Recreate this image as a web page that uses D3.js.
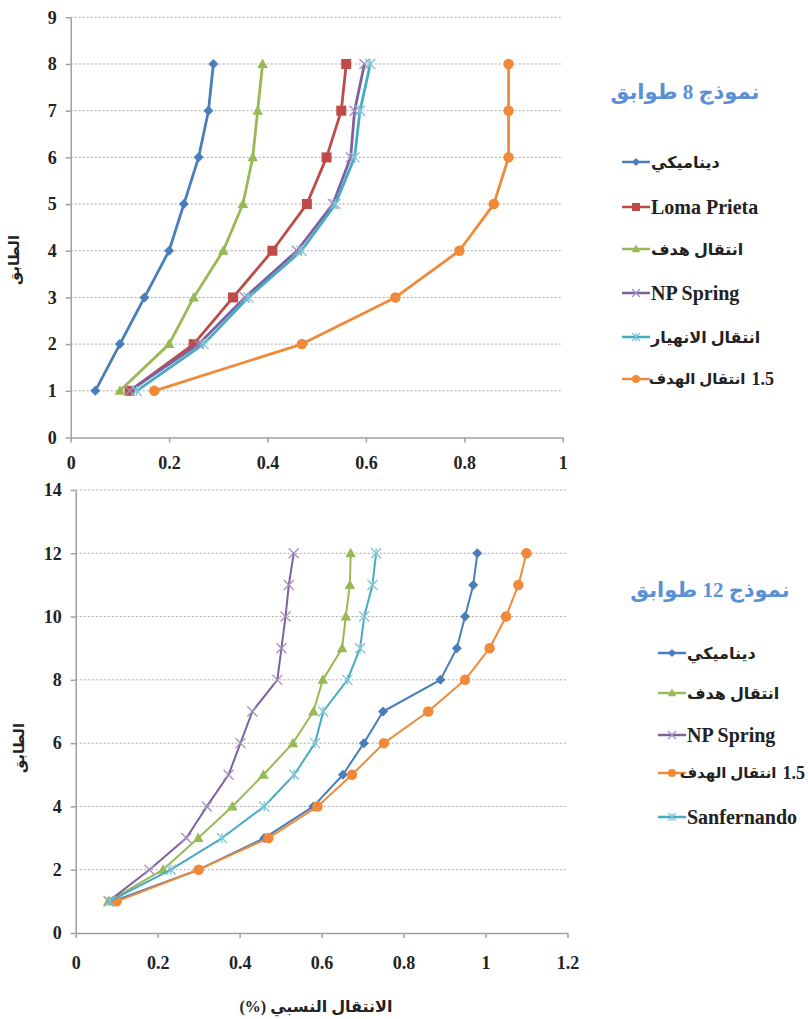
<!DOCTYPE html>
<html>
<head>
<meta charset="utf-8">
<script src="https://cdn.jsdelivr.net/npm/d3@7"></script>
<style>
  body { margin: 0; background: #fff; }
</style>
</head>
<body>
<div id="chart"></div>
<script>
// ---- data: 8 storey model ----
var floors8 = [1, 2, 3, 4, 5, 6, 7, 8];
var dyn8 = [0.05, 0.10, 0.15, 0.20, 0.23, 0.26, 0.28, 0.29];
var loma8 = [0.12, 0.25, 0.33, 0.41, 0.48, 0.52, 0.55, 0.56];
var target8 = [0.10, 0.20, 0.25, 0.31, 0.35, 0.37, 0.38, 0.39];
var npspring8 = [0.12, 0.26, 0.354, 0.46, 0.533, 0.569, 0.577, 0.597];
var collapse8 = [0.134, 0.27, 0.361, 0.469, 0.538, 0.577, 0.588, 0.609];
var target15_8 = [0.17, 0.47, 0.66, 0.79, 0.86, 0.89, 0.89, 0.89];
var yTicks8 = [0, 1, 2, 3, 4, 5, 6, 7, 8, 9];
var xTicks8 = [0, 0.2, 0.4, 0.6, 0.8, 1];

// ---- data: 12 storey model ----
var floors12 = [1, 2, 3, 4, 5, 6, 7, 8, 9, 10, 11, 12];
var dyn12 = [0.09, 0.30, 0.46, 0.58, 0.652, 0.703, 0.75, 0.89, 0.93, 0.95, 0.97, 0.98];
var target12 = [0.08, 0.213, 0.299, 0.382, 0.458, 0.53, 0.58, 0.603, 0.65, 0.659, 0.669, 0.671];
var npspring12 = [0.08, 0.18, 0.27, 0.32, 0.373, 0.402, 0.431, 0.492, 0.502, 0.512, 0.52, 0.532];
var target15_12 = [0.10, 0.30, 0.47, 0.59, 0.674, 0.752, 0.86, 0.95, 1.01, 1.05, 1.08, 1.10];
var sanfer12 = [0.083, 0.232, 0.357, 0.46, 0.533, 0.584, 0.604, 0.663, 0.694, 0.704, 0.724, 0.733];
var yTicks12 = [0, 2, 4, 6, 8, 10, 12, 14];
var xTicks12 = [0, 0.2, 0.4, 0.6, 0.8, 1, 1.2];

var names8 = ["ديناميكي", "Loma Prieta", "انتقال هدف", "NP Spring", "انتقال الانهيار", "1.5 انتقال الهدف"];
var names12 = ["ديناميكي", "انتقال هدف", "NP Spring", "1.5 انتقال الهدف", "Sanfernando"];

var colors = {
  blue: "#4a7ebb", red: "#be4b48", green: "#98b954",
  purple: "#7d60a0", cyan: "#46aac5", orange: "#f08a3a"
};

var series8 = [
  { name: names8[0], values: dyn8, color: colors.blue, marker: "diamond" },
  { name: names8[1], values: loma8, color: colors.red, marker: "square" },
  { name: names8[2], values: target8, color: colors.green, marker: "triangle" },
  { name: names8[3], values: npspring8, color: colors.purple, marker: "x" },
  { name: names8[4], values: collapse8, color: colors.cyan, marker: "star" },
  { name: names8[5], values: target15_8, color: colors.orange, marker: "circle" }
];
var series12 = [
  { name: names12[0], values: dyn12, color: colors.blue, marker: "diamond" },
  { name: names12[1], values: target12, color: colors.green, marker: "triangle" },
  { name: names12[2], values: npspring12, color: colors.purple, marker: "x" },
  { name: names12[3], values: target15_12, color: colors.orange, marker: "circle" },
  { name: names12[4], values: sanfer12, color: colors.cyan, marker: "star" }
];

var serif = "'Liberation Serif', 'DejaVu Sans', serif";

var svg = d3.select("#chart").append("svg")
  .attr("width", 808)
  .attr("height", 1019);

// draw one marker of the given kind at (0,0) inside group g
function drawMarker(g, kind, color, s) {
  if (kind == "diamond") {
    g.append("path").attr("d", "M0," + (-s) + "L" + s + ",0L0," + s + "L" + (-s) + ",0Z").attr("fill", color);
  } else if (kind == "square") {
    g.append("rect").attr("x", -s).attr("y", -s).attr("width", 2 * s).attr("height", 2 * s).attr("fill", color);
  } else if (kind == "triangle") {
    g.append("path").attr("d", "M0," + (-s * 1.1) + "L" + (s * 1.05) + "," + (s * 0.8) + "L" + (-s * 1.05) + "," + (s * 0.8) + "Z").attr("fill", color);
  } else if (kind == "circle") {
    g.append("circle").attr("r", s).attr("fill", color);
  } else if (kind == "x" || kind == "star") {
    var light = d3.interpolateRgb(color, "#ffffff")(0.3);
    var d = "M" + (-s) + "," + (-s) + "L" + s + "," + s + "M" + (-s) + "," + s + "L" + s + "," + (-s);
    if (kind == "star") d += "M0," + (-s) + "L0," + s;
    g.append("path").attr("d", d).attr("stroke", light).attr("stroke-width", 1.3).attr("fill", "none");
  }
}

function drawChart(opt) {
  var x = d3.scaleLinear().domain(opt.xDomain).range([opt.left, opt.right]);
  var y = d3.scaleLinear().domain(opt.yDomain).range([opt.bottom, opt.top]);

  // gridlines
  svg.append("g").selectAll("line")
    .data(opt.yTicks.filter(function (d) { return d > 0; }))
    .enter().append("line")
    .attr("x1", opt.left).attr("x2", opt.right)
    .attr("y1", function (d) { return y(d); })
    .attr("y2", function (d) { return y(d); })
    .attr("stroke", "#a6a6a6")
    .attr("stroke-width", 1)
    .attr("stroke-dasharray", "2,2");

  // axes
  var ax = svg.append("g")
    .attr("transform", "translate(0," + opt.bottom + ")")
    .call(d3.axisBottom(x).tickValues(opt.xTicks).tickFormat(d3.format("")).tickSize(5).tickSizeOuter(0).tickPadding(opt.xPad));
  var ay = svg.append("g")
    .attr("transform", "translate(" + opt.left + ",0)")
    .call(d3.axisLeft(y).tickValues(opt.yTicks).tickSize(5).tickSizeOuter(0).tickPadding(9));
  [ax, ay].forEach(function (a) {
    a.select(".domain").attr("stroke", "#a0a0a0").attr("stroke-width", 1.5);
    a.selectAll(".tick line").attr("stroke", "#a0a0a0").attr("stroke-width", 1.5);
    a.selectAll(".tick text")
      .style("font-family", "'Liberation Serif', serif")
      .style("font-weight", "bold")
      .style("font-size", "18px")
      .attr("fill", "#222");
  });

  // lines
  var line = d3.line()
    .x(function (d) { return x(d[0]); })
    .y(function (d) { return y(d[1]); });
  opt.series.forEach(function (s) {
    var pts = s.values.map(function (v, i) { return [v, opt.floors[i]]; });
    svg.append("path")
      .datum(pts)
      .attr("d", line)
      .attr("fill", "none")
      .attr("stroke", s.color)
      .attr("stroke-width", opt.lineWidth)
      .attr("stroke-linejoin", "round");
    svg.append("g").selectAll("g")
      .data(pts)
      .enter().append("g")
      .attr("transform", function (d) { return "translate(" + x(d[0]) + "," + y(d[1]) + ")"; })
      .each(function () { drawMarker(d3.select(this), s.marker, s.color, s.marker == "circle" ? opt.msize * 1.05 : opt.msize); });
  });

  // y axis title
  svg.append("text")
    .attr("transform", "translate(" + opt.yTitleX + "," + opt.yTitleY + ") rotate(-90)")
    .attr("text-anchor", "middle")
    .style("font-family", serif)
    .style("font-weight", "bold")
    .style("font-size", "15px")
    .attr("fill", "#222")
    .text("الطابق");

  // legend title
  svg.append("text")
    .attr("x", opt.titleX).attr("y", opt.titleY)
    .attr("text-anchor", "middle")
    .style("font-family", serif)
    .style("font-weight", "bold")
    .style("font-size", "21px")
    .attr("fill", "#5b8fd6")
    .text(opt.title);

  // legend
  var leg = svg.append("g").selectAll("g")
    .data(opt.series)
    .enter().append("g")
    .attr("transform", function (d, i) { return "translate(" + opt.legX + "," + opt.legY[i] + ")"; });
  leg.append("line")
    .attr("x1", 0).attr("x2", 28)
    .attr("stroke", function (d) { return d.color; })
    .attr("stroke-width", 2.5);
  leg.each(function (d) {
    var g = d3.select(this);
    drawMarker(g.append("g").attr("transform", "translate(14,0)"), d.marker, d.color, 4);
    // labels like "1.5 انتقال الهدف": number at the right end, Arabic part left of it
    var m = d.name.match(/^([\d.]+) (.*)$/);
    if (m) {
      var num = g.append("text")
        .attr("x", opt.numEnd)
        .attr("dy", "0.35em")
        .attr("text-anchor", "end")
        .style("font-family", serif)
        .style("font-weight", "bold")
        .style("font-size", "18px")
        .attr("fill", "#222")
        .text(m[1]);
      g.append("text")
        .attr("x", opt.numEnd - num.node().getComputedTextLength() - 6)
        .attr("dy", "0.35em")
        .attr("text-anchor", "end")
        .style("font-family", serif)
        .style("font-weight", "bold")
        .style("font-size", "15px")
        .attr("fill", "#222")
        .text(m[2]);
    } else {
      g.append("text")
        .attr("x", 29)
        .attr("dy", "0.35em")
        .style("font-family", serif)
        .style("font-weight", "bold")
        .style("font-size", /[A-Za-z]/.test(d.name) ? "20px" : "16px")
        .attr("fill", "#222")
        .text(d.name);
    }
  });
}

drawChart({
  series: series8, floors: floors8,
  xDomain: [0, 1], yDomain: [0, 9], xTicks: xTicks8, yTicks: yTicks8,
  left: 70.7, right: 562.7, top: 17.3, bottom: 437.5, xPad: 14,
  lineWidth: 2.8, msize: 5,
  yTitleX: 19, yTitleY: 260,
  title: "نموذج 8 طوابق", titleX: 685, titleY: 99,
  legX: 622, legY: [162, 207, 249, 293, 337, 379], numEnd: 152
});

drawChart({
  series: series12, floors: floors12,
  xDomain: [0, 1.2], yDomain: [0, 14], xTicks: xTicks12, yTicks: yTicks12,
  left: 75.7, right: 567.5, top: 490, bottom: 933, xPad: 18,
  lineWidth: 2, msize: 5,
  yTitleX: 24, yTitleY: 748,
  title: "نموذج 12 طوابق", titleX: 710, titleY: 597,
  legX: 658, legY: [653, 693, 735, 773, 817], numEnd: 147
});

// x axis title
svg.append("text")
  .attr("x", 316).attr("y", 1012)
  .attr("text-anchor", "middle")
  .style("font-family", serif)
  .style("font-weight", "bold")
  .style("font-size", "16px")
  .attr("fill", "#222")
  .text("(%) الانتقال النسبي");
</script>
</body>
</html>
